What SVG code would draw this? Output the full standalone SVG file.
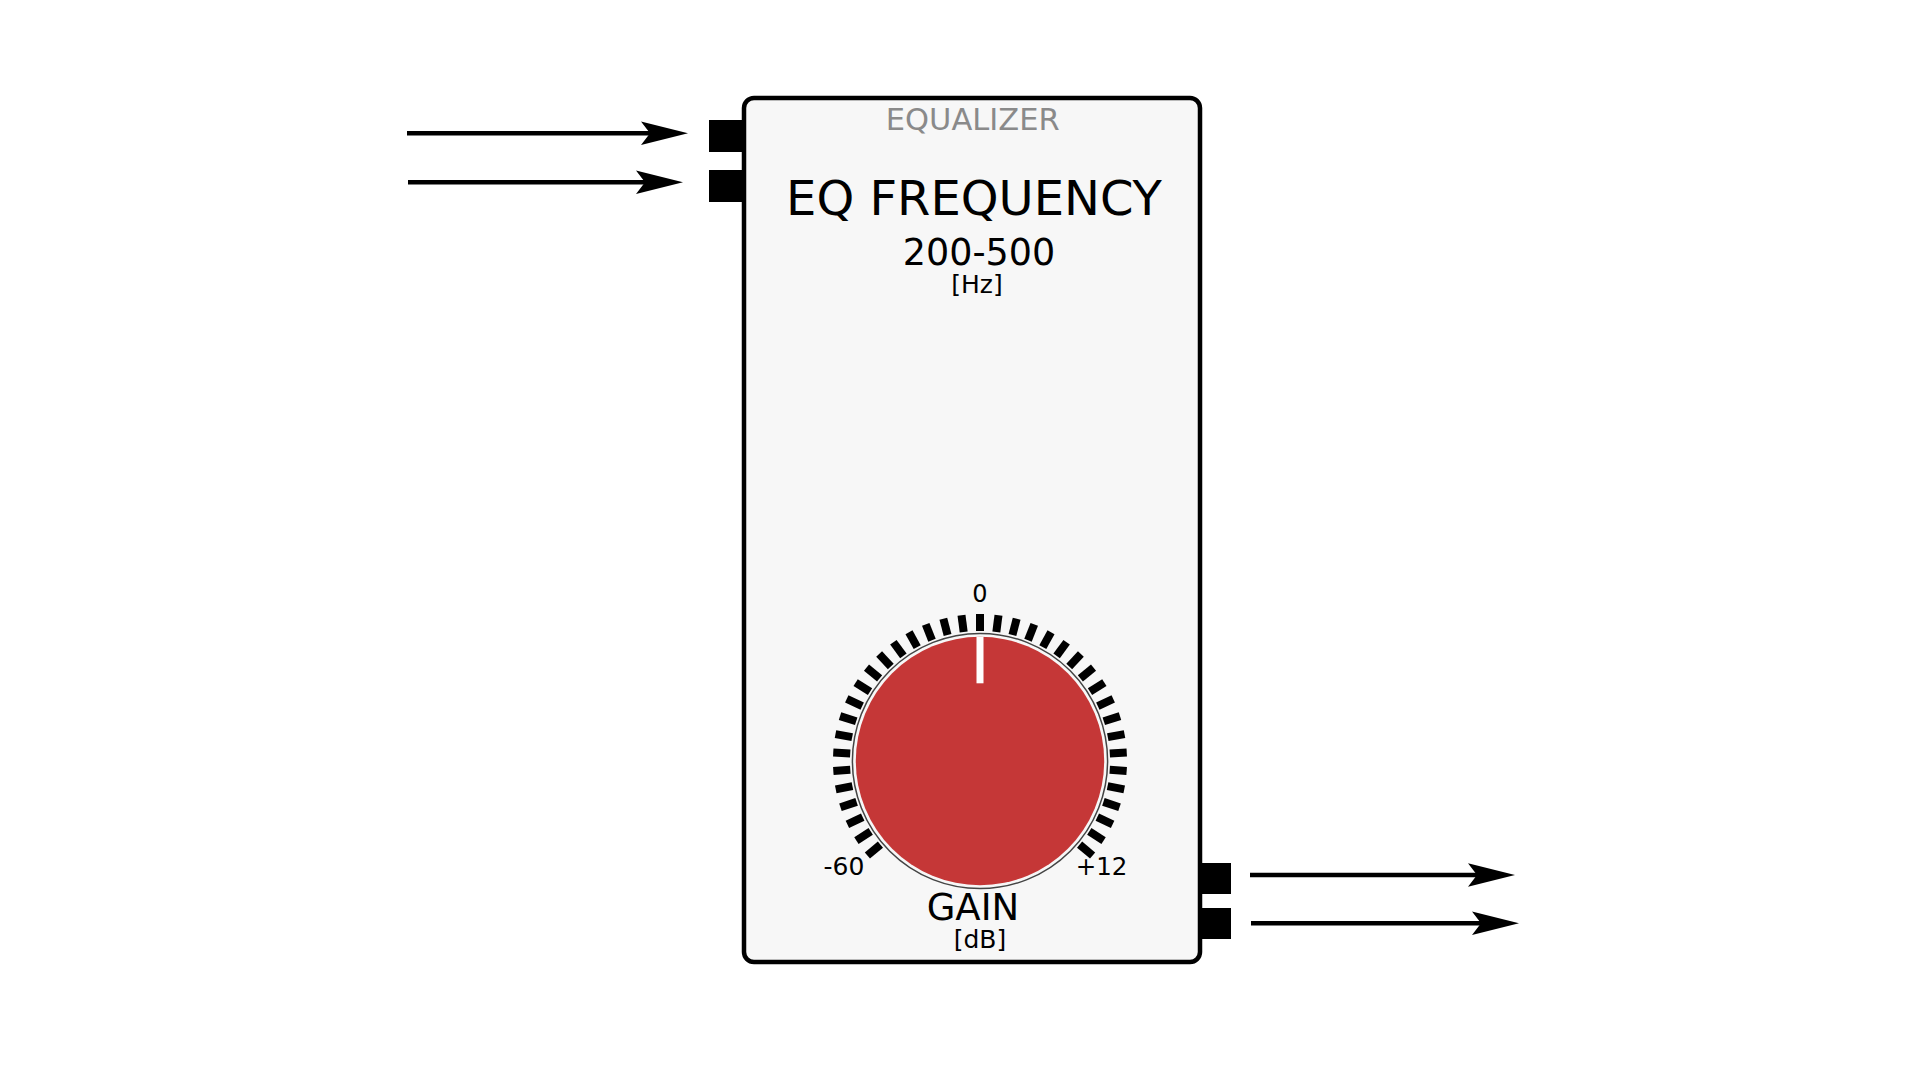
<svg xmlns="http://www.w3.org/2000/svg" xmlns:xlink="http://www.w3.org/1999/xlink" width="1920" height="1080" viewBox="0 0 1920 1080">
<style>
text{font-family:"DejaVu Sans","Liberation Sans",sans-serif;text-anchor:middle;fill:#000}
.port{fill:#000}
.wire{stroke:#000;stroke-width:4.5;fill:none}
.box{fill:#f7f7f7;stroke:#000;stroke-width:4.5}
</style>
<defs>
<marker id="ah" markerUnits="userSpaceOnUse" viewBox="-10 -13 50 26" refX="0" refY="0" markerWidth="50" markerHeight="26" orient="auto">
<path d="M-9,-11.7 L38,0 L-9,11.7 L0,0 Z" fill="#000"/>
</marker>
<rect id="tick" x="-4" y="-147" width="8" height="17" fill="#000"/>
</defs>
<rect width="1920" height="1080" fill="#fff"/>
<g id="connectors">
<path class="wire" d="M407,133.3 H650" marker-end="url(#ah)"/>
<path class="wire" d="M408,182.3 H645" marker-end="url(#ah)"/>
<path class="wire" d="M1250,875 H1477" marker-end="url(#ah)"/>
<path class="wire" d="M1251,923.3 H1481" marker-end="url(#ah)"/>
</g>
<g id="equalizer">
<rect class="port" x="709" y="120" width="35" height="32"/>
<rect class="port" x="709" y="170" width="35" height="32"/>
<rect class="port" x="1199" y="863" width="32" height="31"/>
<rect class="port" x="1199" y="908" width="32" height="31"/>
<rect class="box" x="744" y="98" width="456" height="864" rx="10"/>
<text x="972.7" y="130" font-size="30.5" style="fill:#8a8a8a">EQUALIZER</text>
<text x="974" y="215" font-size="48">EQ FREQUENCY</text>
<text x="979" y="265" font-size="36.5">200-500</text>
<text x="977" y="293" font-size="25">[Hz]</text>
</g>
<g id="gain-knob">
<g transform="translate(980,761)">
<use xlink:href="#tick" transform="rotate(-130)"/>
<use xlink:href="#tick" transform="rotate(-122.778)"/>
<use xlink:href="#tick" transform="rotate(-115.556)"/>
<use xlink:href="#tick" transform="rotate(-108.333)"/>
<use xlink:href="#tick" transform="rotate(-101.111)"/>
<use xlink:href="#tick" transform="rotate(-93.889)"/>
<use xlink:href="#tick" transform="rotate(-86.667)"/>
<use xlink:href="#tick" transform="rotate(-79.444)"/>
<use xlink:href="#tick" transform="rotate(-72.222)"/>
<use xlink:href="#tick" transform="rotate(-65)"/>
<use xlink:href="#tick" transform="rotate(-57.778)"/>
<use xlink:href="#tick" transform="rotate(-50.556)"/>
<use xlink:href="#tick" transform="rotate(-43.333)"/>
<use xlink:href="#tick" transform="rotate(-36.111)"/>
<use xlink:href="#tick" transform="rotate(-28.889)"/>
<use xlink:href="#tick" transform="rotate(-21.667)"/>
<use xlink:href="#tick" transform="rotate(-14.444)"/>
<use xlink:href="#tick" transform="rotate(-7.222)"/>
<use xlink:href="#tick" transform="rotate(0)"/>
<use xlink:href="#tick" transform="rotate(7.222)"/>
<use xlink:href="#tick" transform="rotate(14.444)"/>
<use xlink:href="#tick" transform="rotate(21.667)"/>
<use xlink:href="#tick" transform="rotate(28.889)"/>
<use xlink:href="#tick" transform="rotate(36.111)"/>
<use xlink:href="#tick" transform="rotate(43.333)"/>
<use xlink:href="#tick" transform="rotate(50.556)"/>
<use xlink:href="#tick" transform="rotate(57.778)"/>
<use xlink:href="#tick" transform="rotate(65)"/>
<use xlink:href="#tick" transform="rotate(72.222)"/>
<use xlink:href="#tick" transform="rotate(79.444)"/>
<use xlink:href="#tick" transform="rotate(86.667)"/>
<use xlink:href="#tick" transform="rotate(93.889)"/>
<use xlink:href="#tick" transform="rotate(101.111)"/>
<use xlink:href="#tick" transform="rotate(108.333)"/>
<use xlink:href="#tick" transform="rotate(115.556)"/>
<use xlink:href="#tick" transform="rotate(122.778)"/>
<use xlink:href="#tick" transform="rotate(130)"/>
<circle r="127.6" fill="none" stroke="#444" stroke-width="1.5"/>
<circle r="124.2" fill="#c53737"/>
<rect x="-3.5" y="-124.2" width="7" height="46.5" fill="#fff"/>
</g>
<text x="980" y="602" font-size="24">0</text>
<text x="844" y="875" font-size="25">-60</text>
<text x="1101.5" y="875" font-size="24.5">+12</text>
<text x="973" y="920" font-size="37">GAIN</text>
<text x="980" y="948" font-size="25">[dB]</text>
</g>
</svg>
